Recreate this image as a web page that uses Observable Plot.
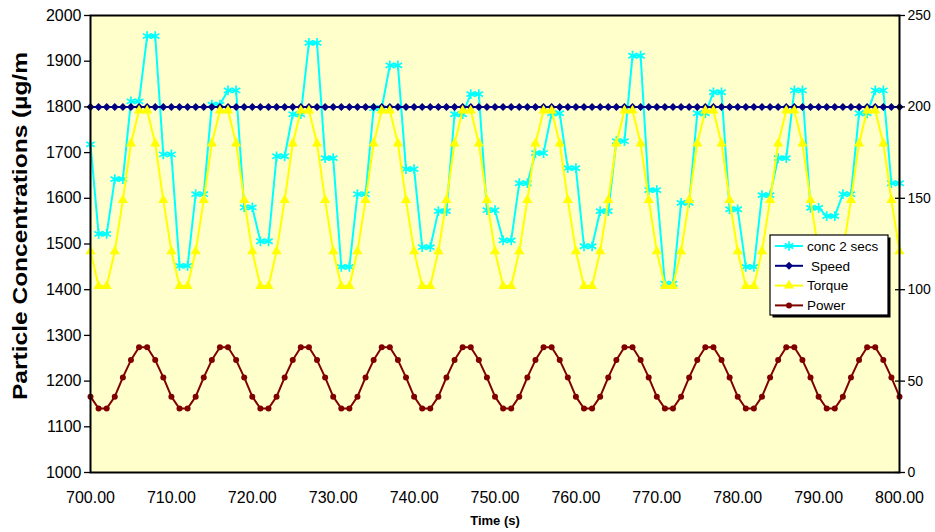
<!DOCTYPE html>
<html>
<head>
<meta charset="utf-8">
<script src="https://cdn.jsdelivr.net/npm/d3@7"></script>
<script src="https://cdn.jsdelivr.net/npm/@observablehq/plot@0.6"></script>
<style>
  body { margin: 0; background: #fff; }
  #chart { width: 935px; height: 532px; }
</style>
</head>
<body>
<div id="chart"></div>
<script>
// ---- data ----
const time = [700,
  701,702,703,704,705,706,707,708,709,710,
  711,712,713,714,715,716,717,718,719,720,
  721,722,723,724,725,726,727,728,729,730,
  731,732,733,734,735,736,737,738,739,740,
  741,742,743,744,745,746,747,748,749,750,
  751,752,753,754,755,756,757,758,759,760,
  761,762,763,764,765,766,767,768,769,770,
  771,772,773,774,775,776,777,778,779,780,
  781,782,783,784,785,786,787,788,789,790,
  791,792,793,794,795,796,797,798,799,800];

// conc 2 secs (µg/m³, left axis)
const conc = [1718,
  1522,1522,1642,1642,1812,1812,1955,1955,1696,1696,
  1452,1452,1609,1609,1805,1805,1836,1836,1580,1580,
  1506,1506,1692,1692,1784,1784,1940,1940,1688,1688,
  1450,1450,1609,1609,1797,1797,1891,1891,1664,1664,
  1493,1493,1572,1572,1784,1784,1828,1828,1574,1574,
  1508,1508,1633,1633,1699,1699,1786,1786,1666,1666,
  1495,1495,1572,1572,1725,1725,1912,1912,1618,1618,
  1413,1413,1590,1590,1786,1786,1832,1832,1576,1576,
  1450,1450,1607,1607,1688,1688,1836,1836,1579,1579,
  1561,1561,1609,1609,1786,1786,1836,1836,1633,1633];

// Speed (right axis)
const speed = [200,
  200,200,200,200,200,200,200,200,200,200,
  200,200,200,200,200,200,200,200,200,200,
  200,200,200,200,200,200,200,200,200,200,
  200,200,200,200,200,200,200,200,200,200,
  200,200,200,200,200,200,200,200,200,200,
  200,200,200,200,200,200,200,200,200,200,
  200,200,200,200,200,200,200,200,200,200,
  200,200,200,200,200,200,200,200,200,200,
  200,200,200,200,200,200,200,200,200,200,
  200,200,200,200,200,200,200,200,200,200];

// Torque (right axis)
const torque = [121,
  102,102,121,149,180,198,198,180,149,121,
  102,102,121,149,180,198,198,180,149,121,
  102,102,121,149,180,198,198,180,149,121,
  102,102,121,149,180,198,198,180,149,121,
  102,102,121,149,180,198,198,180,149,121,
  102,102,121,149,180,198,198,180,149,121,
  102,102,121,149,180,198,198,180,149,121,
  102,102,121,149,180,198,198,180,149,121,
  102,102,121,149,180,198,198,180,149,121,
  102,102,121,149,180,198,198,180,149,121];

// Power (right axis)
const power = [41.5,
  35,35,41.5,52,61.5,68.5,68.5,61.5,52,41.5,
  35,35,41.5,52,61.5,68.5,68.5,61.5,52,41.5,
  35,35,41.5,52,61.5,68.5,68.5,61.5,52,41.5,
  35,35,41.5,52,61.5,68.5,68.5,61.5,52,41.5,
  35,35,41.5,52,61.5,68.5,68.5,61.5,52,41.5,
  35,35,41.5,52,61.5,68.5,68.5,61.5,52,41.5,
  35,35,41.5,52,61.5,68.5,68.5,61.5,52,41.5,
  35,35,41.5,52,61.5,68.5,68.5,61.5,52,41.5,
  35,35,41.5,52,61.5,68.5,68.5,61.5,52,41.5,
  35,35,41.5,52,61.5,68.5,68.5,61.5,52,41.5];

const leftTicks = [1000,1100,1200,1300,1400,1500,1600,1700,1800,1900,2000];
const rightTicks = [0,50,100,150,200,250];
const xTicks = [700,710,720,730,740,750,760,770,780,790,800];
const seriesNames = ["conc 2 secs", "Speed", "Torque", "Power"];
const seriesColors = ["#00ffff", "#000080", "#ffff00", "#800000"];
const yTitle = "Particle Concentrations (µg/m";
const xTitle = "Time (s)";

// right axis 0–250 shares the plot height with left axis 1000–2000
const toLeft = v => 1000 + v * 4;
const fromLeft = d => (d - 1000) / 4;

const rows = time.map((t, i) => ({
  t,
  conc: conc[i],
  speed: toLeft(speed[i]),
  torque: toLeft(torque[i]),
  power: toLeft(power[i])
}));

const FONT = "'Liberation Sans', Arial, Helvetica, sans-serif";
const SYM = {
  conc: { symbol: "asterisk", r: 4.6 },
  speed: { symbol: "diamond2", r: 3.6 },
  torque: { symbol: "triangle", r: 3.8 },
  power: { symbol: "circle", r: 3 }
};

const chart = Plot.plot({
  width: 935,
  height: 532,
  marginLeft: 90,
  marginRight: 36,
  marginTop: 15,
  marginBottom: 60,
  style: { fontFamily: FONT, background: "#fff", color: "#000", overflow: "visible" },
  x: { domain: [700, 800] },
  y: { domain: [1000, 2000] },
  marks: [
    Plot.frame({ fill: "#ffffcc" }),
    // conc 2 secs
    Plot.line(rows, { x: "t", y: "conc", stroke: seriesColors[0], strokeWidth: 2 }),
    Plot.dot(rows, { x: "t", y: "conc", symbol: SYM.conc.symbol, r: SYM.conc.r, stroke: seriesColors[0], strokeWidth: 1.7 }),
    // Speed
    Plot.line(rows, { x: "t", y: "speed", stroke: seriesColors[1], strokeWidth: 2 }),
    Plot.dot(rows, { x: "t", y: "speed", symbol: SYM.speed.symbol, r: SYM.speed.r, fill: seriesColors[1], stroke: "none" }),
    // Torque
    Plot.line(rows, { x: "t", y: "torque", stroke: seriesColors[2], strokeWidth: 2 }),
    Plot.dot(rows, { x: "t", y: "torque", symbol: SYM.torque.symbol, r: SYM.torque.r, fill: seriesColors[2], stroke: "none" }),
    // Power
    Plot.line(rows, { x: "t", y: "power", stroke: seriesColors[3], strokeWidth: 2 }),
    Plot.dot(rows, { x: "t", y: "power", r: SYM.power.r, fill: seriesColors[3], stroke: "none" }),
    // axes
    Plot.axisY(leftTicks, { anchor: "left", tickSize: 6, tickPadding: 3, fontSize: 16, label: null,
      tickFormat: d => String(d), strokeWidth: 1.3 }),
    Plot.axisY(rightTicks.map(toLeft), { anchor: "right", tickSize: 10, dx: -5, tickPadding: 3, fontSize: 14,
      tickFormat: d => String(fromLeft(d)), label: null, strokeWidth: 1.3 }),
    Plot.axisX(xTicks, { anchor: "bottom", tickSize: 0, tickPadding: 19, fontSize: 16,
      tickFormat: d => d.toFixed(2), label: null }),
    Plot.frame({ stroke: "#000", strokeWidth: 2 }),
    // titles
    Plot.text([yTitle], { frameAnchor: "left", dx: -70, dy: -18, rotate: -90, text: d => d,
      fontSize: 21, fontWeight: "bold", textAnchor: "middle", lineAnchor: "middle", fill: "#000" }),
    Plot.text([xTitle], { frameAnchor: "bottom", dy: 48, text: d => d,
      fontSize: 13, fontWeight: "bold", textAnchor: "middle", lineAnchor: "middle", fill: "#000" })
  ]
});

document.getElementById("chart").appendChild(chart);

// stretch y-title to the reference length
const svg = d3.select(chart);
svg.selectAll("text").filter(function () { return this.textContent === yTitle; })
  .attr("textLength", 348).attr("lengthAdjust", "spacingAndGlyphs");

// ---- legend (inside the plot area, like the reference) ----
const lg = svg.append("g").attr("transform", "translate(770,235)").attr("text-anchor", "start");
lg.append("rect").attr("x", 2.5).attr("y", 2.5).attr("width", 118).attr("height", 80).attr("fill", "#000");
lg.append("rect").attr("width", 118).attr("height", 80).attr("fill", "#fff").attr("stroke", "#000").attr("stroke-width", 1.2);
const symbols = [
  { type: d3.symbolAsterisk, r: SYM.conc.r, fill: "none", stroke: seriesColors[0] },
  { type: d3.symbolDiamond2, r: SYM.speed.r, fill: seriesColors[1], stroke: "none" },
  { type: d3.symbolTriangle, r: SYM.torque.r, fill: seriesColors[2], stroke: "none" },
  { type: d3.symbolCircle, r: SYM.power.r, fill: seriesColors[3], stroke: "none" }
];
seriesNames.forEach((name, i) => {
  const cy = 11 + i * 19.8;
  lg.append("line").attr("x1", 5).attr("x2", 33).attr("y1", cy).attr("y2", cy)
    .attr("stroke", seriesColors[i]).attr("stroke-width", 2);
  const s = symbols[i];
  lg.append("path").attr("transform", `translate(19,${cy})`)
    .attr("d", d3.symbol(s.type, s.r * s.r * Math.PI)())
    .attr("fill", s.fill).attr("stroke", s.stroke).attr("stroke-width", 1.7);
  lg.append("text").attr("x", name === "Speed" ? 41 : 37).attr("y", cy).attr("dy", "0.35em")
    .attr("text-anchor", "start")
    .attr("font-family", FONT).attr("font-size", 13.5).attr("fill", "#000").text(name);
});
</script>
</body>
</html>
